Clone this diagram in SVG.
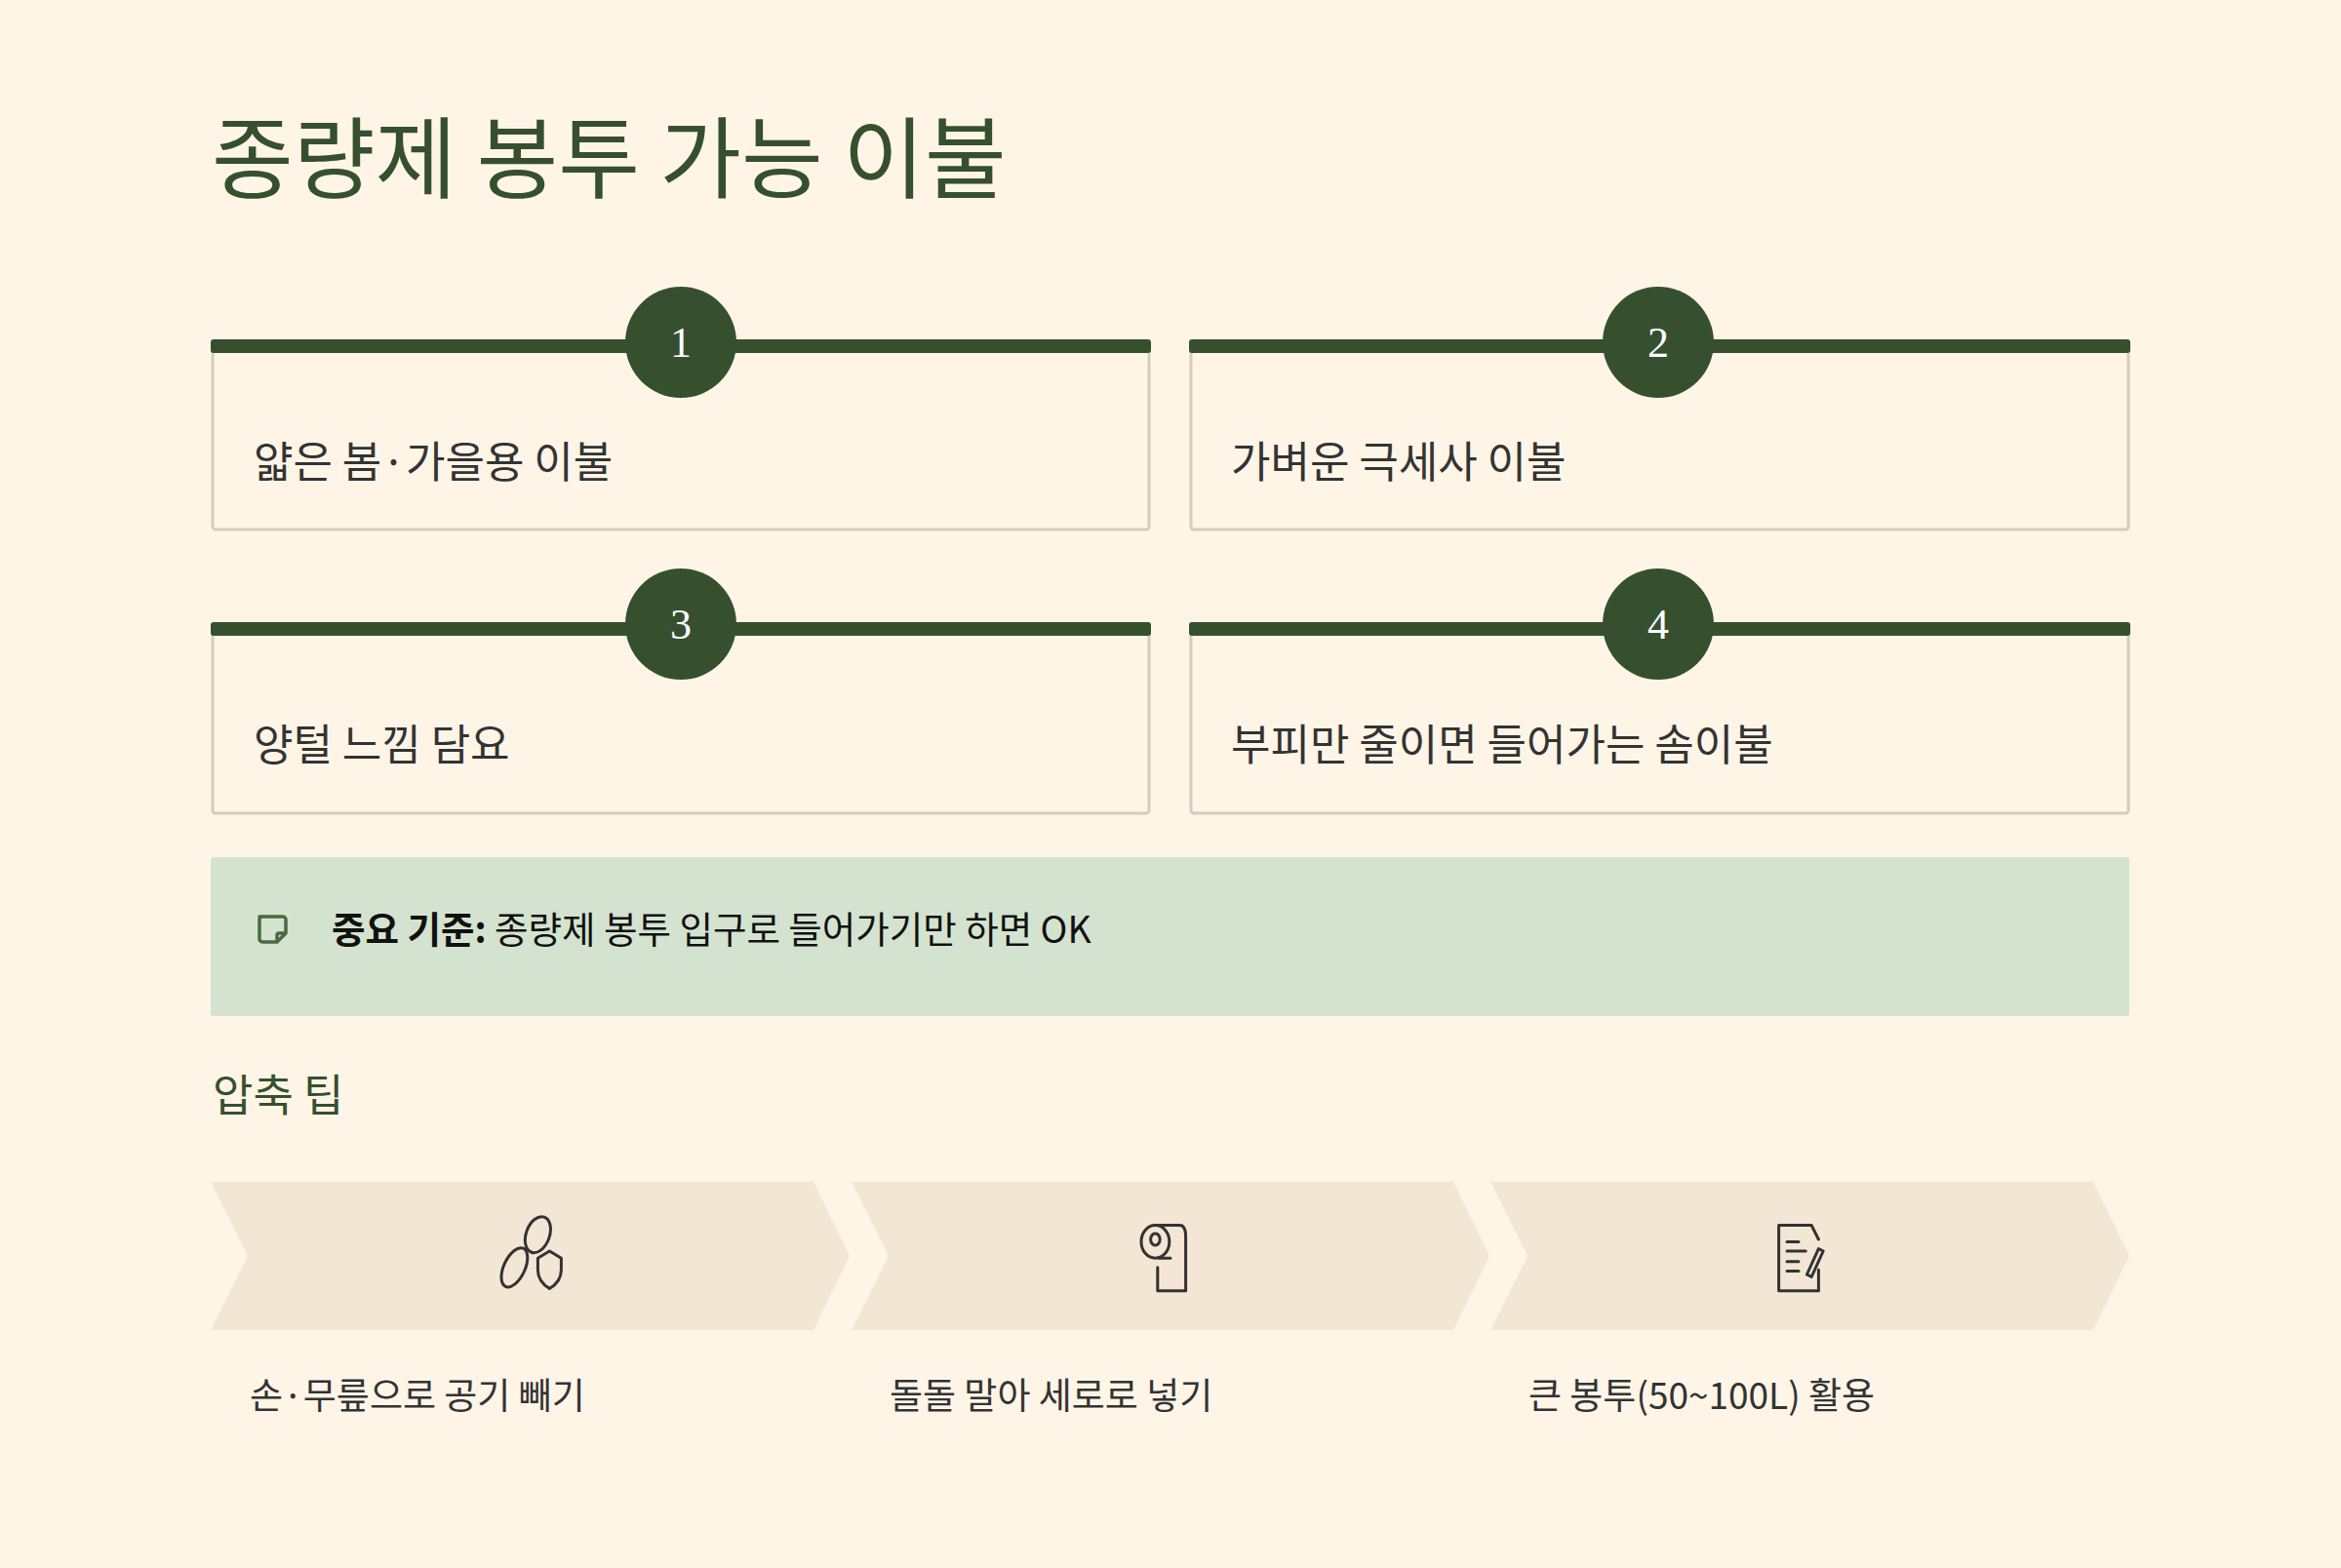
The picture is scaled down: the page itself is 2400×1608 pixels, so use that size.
<svg xmlns="http://www.w3.org/2000/svg" width="2400" height="1608" viewBox="0 0 2400 1608">
<style>
.t{font-family:"Noto Sans CJK KR","Noto Sans",sans-serif}
.card{fill:#fef5e7;stroke:#d8cbbb;stroke-width:3}
.bar{fill:#36502f}
.num{font-family:"Liberation Serif",serif;font-size:44px;fill:#fff;text-anchor:middle}
.ct{font-size:44px;fill:#333}
.chev{fill:#f3e6d4}
.lab{font-size:37px;fill:#333}
.ic{fill:none;stroke:#333;stroke-width:2.5;stroke-linecap:round;stroke-linejoin:round}
</style>
<rect width="2400" height="1608" fill="#fef5e7"/>
<text class="t" x="217" y="196" font-size="91" fill="#36502f">종량제 봉투 가능 이불</text>
<g id="card1"><rect class="card" x="218" y="350" width="960" height="193" rx="3"/><rect class="bar" x="216" y="348" width="964" height="14" rx="3"/><circle class="bar" cx="698" cy="351" r="57"/><text class="num" x="698" y="366">1</text><text class="t ct" x="260" y="490">얇은 봄·가을용 이불</text></g>
<g id="card2"><rect class="card" x="1221" y="350" width="961" height="193" rx="3"/><rect class="bar" x="1219" y="348" width="965" height="14" rx="3"/><circle class="bar" cx="1700" cy="351" r="57"/><text class="num" x="1700" y="366">2</text><text class="t ct" x="1262" y="490">가벼운 극세사 이불</text></g>
<g id="card3"><rect class="card" x="218" y="640" width="960" height="194" rx="3"/><rect class="bar" x="216" y="638" width="964" height="14" rx="3"/><circle class="bar" cx="698" cy="640" r="57"/><text class="num" x="698" y="655">3</text><text class="t ct" x="260" y="780">양털 느낌 담요</text></g>
<g id="card4"><rect class="card" x="1221" y="640" width="961" height="194" rx="3"/><rect class="bar" x="1219" y="638" width="965" height="14" rx="3"/><circle class="bar" cx="1700" cy="640" r="57"/><text class="num" x="1700" y="655">4</text><text class="t ct" x="1262" y="780">부피만 줄이면 들어가는 솜이불</text></g>
<g id="note"><rect x="216" y="879" width="1967" height="163" rx="3" fill="#d4e3cf"/>
<path d="M266 940 h24 a3 3 0 0 1 3 3 v14 l-9 9 h-15 a3 3 0 0 1 -3 -3 v-20 a3 3 0 0 1 3 -3z M293 957 h-7 a2 2 0 0 0 -2 2 v7" fill="none" stroke="#4a6a40" stroke-width="3.5" stroke-linejoin="round"/>
<text class="t" x="340" y="967" font-size="37.5" fill="#111"><tspan font-weight="bold">중요 기준:</tspan> 종량제 봉투 입구로 들어가기만 하면 OK</text></g>
<text class="t" x="218" y="1140" font-size="45" fill="#36502f">압축 팁</text>
<g id="step1"><polygon class="chev" points="216,1212 834,1212 871,1288 834,1364 216,1364 254,1288"/>
<g class="ic" transform="translate(543 1289) scale(1.2) translate(-543 -1289)"><ellipse cx="550" cy="1270" rx="10" ry="16" transform="rotate(20 550 1270)"/><ellipse cx="530" cy="1298" rx="9" ry="18" transform="rotate(25 530 1298)"/><path d="M550 1290 l10 -6 l10 6 v10 q0 10 -10 16 q-10 -6 -10 -16z"/></g>
<text class="t lab" x="256" y="1445">손·무릎으로 공기 빼기</text></g>
<g id="step2"><polygon class="chev" points="873,1212 1490,1212 1527,1288 1490,1364 873,1364 911,1288"/>
<g class="ic" transform="translate(1200 1289) scale(1.2) translate(-1200 -1289)"><ellipse cx="1187" cy="1276" rx="12" ry="14"/><ellipse cx="1187" cy="1274" rx="4" ry="5"/><path d="M1187 1262 h21 q5 0 5 10 v46 h-24 v-20 M1190 1290 h10"/></g>
<text class="t lab" x="912" y="1445">돌돌 말아 세로로 넣기</text></g>
<g id="step3"><polygon class="chev" points="1528,1212 2146,1212 2183,1288 2146,1364 1528,1364 1566,1288"/>
<g class="ic" transform="translate(1850 1289) scale(1.2) translate(-1850 -1289)"><path d="M1828 1262 h28 l6 12 M1862 1300 v18 h-34 v-56 M1835 1276 h10 M1835 1284 h16 M1835 1293 h10 M1835 1301 h10 M1852 1304 l10 -22 l4 2 l-10 22 z"/></g>
<text class="t lab" x="1567" y="1445">큰 봉투(50~100L) 활용</text></g>
</svg>
